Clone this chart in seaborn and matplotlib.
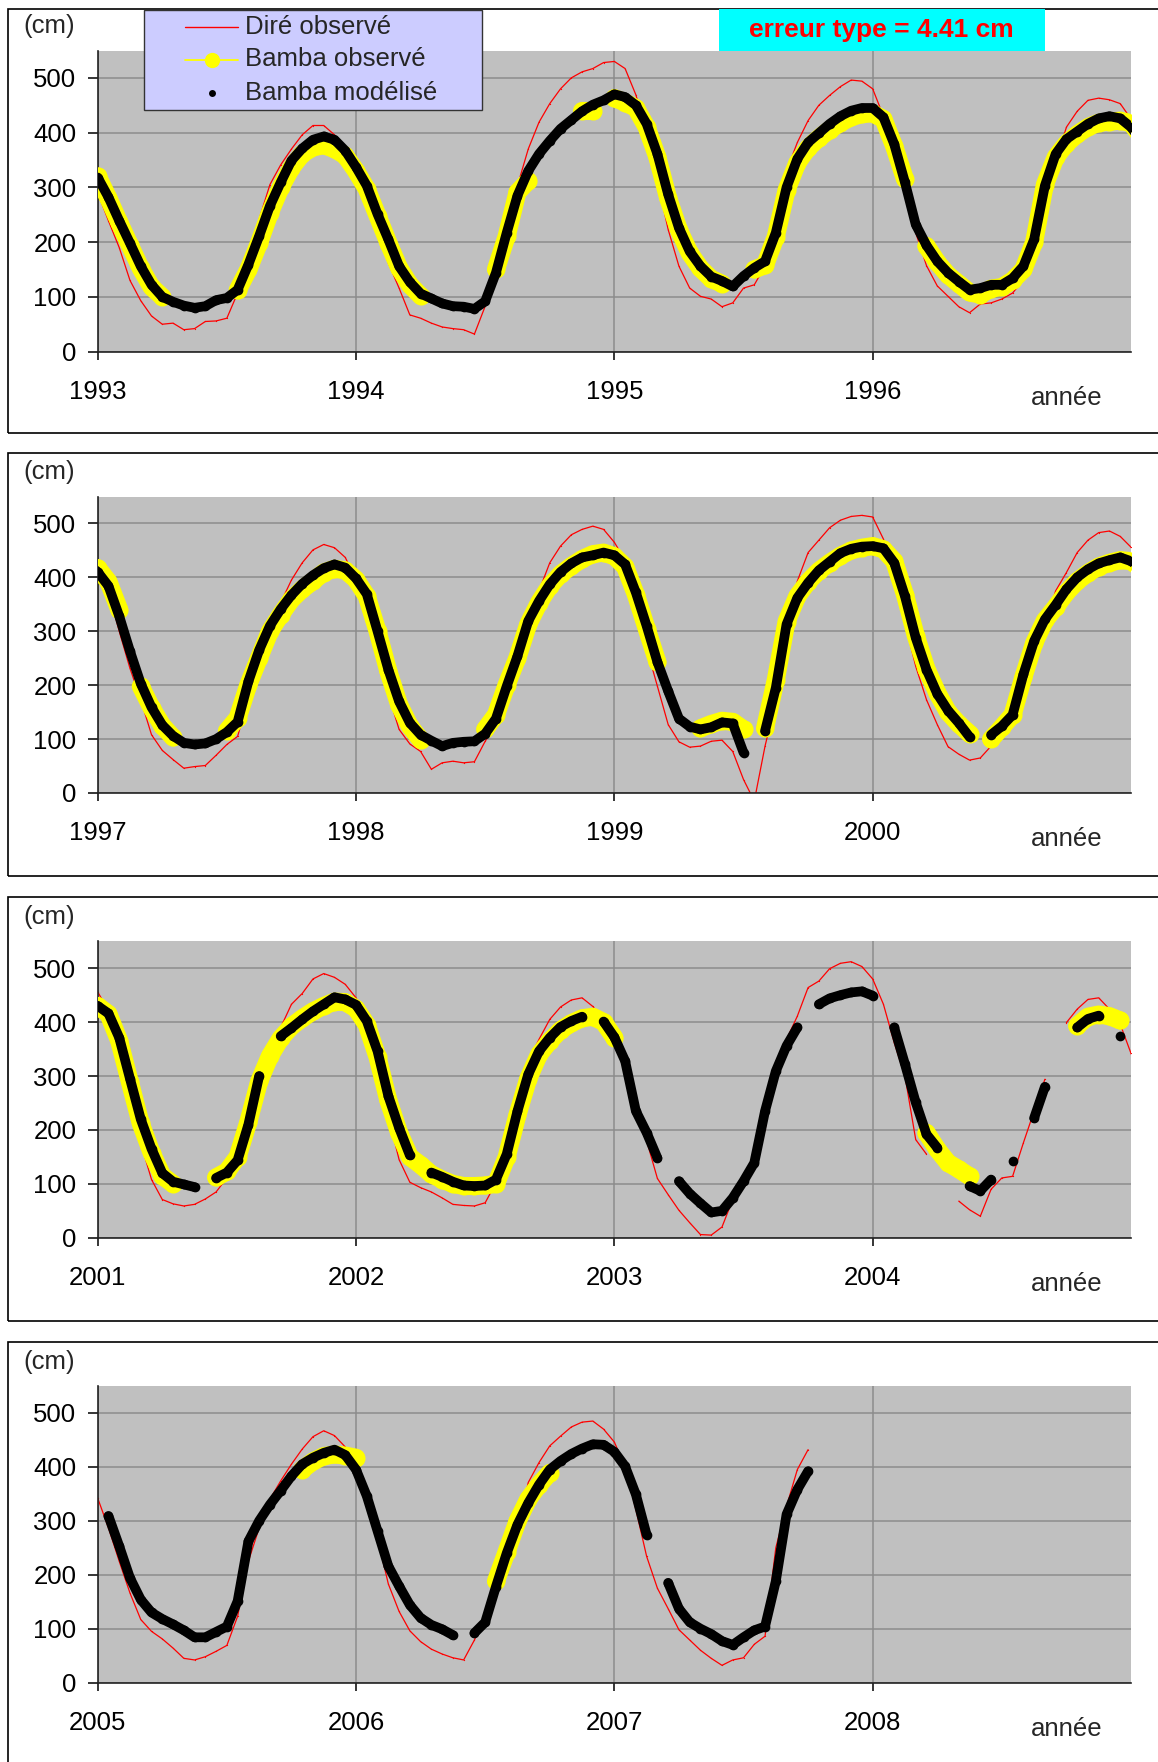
import numpy as np
import pandas as pd
import matplotlib.pyplot as plt
from matplotlib.patches import Rectangle
from matplotlib.lines import Line2D
import seaborn as sns

nan = np.nan

# cotes en cm, un relevé tous les demi-mois (24 par an) à partir du 1er janvier 1993
dire_observe = (
    [290, 239, 190, 130, 93, 65, 50, 52, 40, 42, 55, 56, 61, 107, 171, 242, 305, 341, 370, 396, 413, 413, 396, 371]      # 1993
    + [327, 275, 220, 162, 116, 67, 61, 52, 45, 42, 40, 32, 83, 150, 229, 303, 370, 419, 453, 480, 500, 511, 517, 528]  # 1994
    + [530, 517, 469, 401, 312, 223, 156, 116, 101, 96, 82, 89, 116, 122, 156, 226, 330, 382, 422, 450, 468, 484, 496, 494]
    + [480, 430, 379, 303, 217, 157, 120, 101, 82, 71, 87, 89, 96, 107, 131, 180, 284, 346, 410, 439, 459, 463, 460, 453]
    + [425, 375, 300, 231, 173, 108, 79, 62, 46, 49, 51, 70, 90, 105, 176, 246, 300, 353, 395, 427, 451, 461, 455, 437]
    + [396, 336, 269, 183, 118, 91, 77, 44, 56, 59, 56, 58, 96, 127, 183, 248, 310, 375, 427, 458, 479, 489, 495, 489]
    + [465, 432, 362, 269, 198, 127, 95, 85, 87, 96, 98, 77, 25, -15, 87, 170, 300, 393, 446, 469, 492, 506, 513, 515]
    + [512, 471, 396, 316, 235, 173, 127, 86, 72, 61, 65, 87, 127, 167, 207, 257, 313, 375, 409, 446, 469, 483, 486, 476]
    + [456, 421, 359, 272, 176, 108, 71, 63, 59, 62, 72, 85, 111, 144, 223, 303, 339, 390, 433, 453, 480, 490, 483, 470]
    + [445, 393, 325, 226, 145, 103, 93, 85, 74, 62, 60, 59, 65, 102, 189, 260, 328, 368, 405, 428, 441, 445, 429, 405]
    + [374, 306, 226, 180, 110, 80, 51, 28, 6, 5, 20, 71, 96, 130, 201, 319, 368, 411, 464, 476, 499, 509, 512, 503]
    + [480, 433, 362, 300, 182, 155, nan, nan, 68, 52, 40, 90, 111, 114, 176, 235, 294, nan, 399, 424, 442, 445, 424, 396]
    + [342, 287, 225, 166, 117, 95, 81, 64, 45, 42, 48, 58, 69, 123, 225, 287, 340, 374, 405, 433, 456, 467, 458, 437]
    + [401, 349, 268, 183, 132, 96, 76, 62, 53, 46, 42, 79, 125, 175, 225, 281, 371, 408, 439, 457, 474, 483, 485, 470]
    + [446, 401, 321, 234, 175, 137, 98, 79, 60, 45, 32, 42, 46, 71, 86, 250, 327, 395, 432, nan, nan, nan, nan, nan]
    + [nan] * 25
)

bamba_observe = (
    [320, 280, 236, 194, 152, 118, 100, nan, nan, nan, nan, nan, nan, 112, 150, 199, 254, 300, 336, 361, 373, 377, 370, 358]
    + [330, 297, 248, 199, 153, 122, 102, nan, nan, nan, nan, nan, nan, 150, 211, 291, 312, nan, nan, nan, nan, 440, 440, nan]
    + [463, 455, 445, 410, 355, 280, 222, 180, 152, 133, 124, nan, nan, 150, 158, 210, 295, 345, 372, 390, 405, 418, 428, 434]
    + [435, 425, 375, 315, nan, 193, 163, 140, 124, 108, 104, 115, 118, 130, 150, 200, 305, 355, 380, 397, 410, 418, 420, 422]
    + [417, 392, 340, nan, 198, 158, 125, 103, nan, nan, nan, nan, 115, 139, 201, 251, 300, 331, 359, 378, 393, 409, 416, 413]
    + [396, 365, 300, 226, 164, 124, 99, nan, nan, nan, nan, nan, 118, 145, 201, 251, 313, 353, 384, 406, 421, 434, 443, 446]
    + [439, 420, 368, 305, 243, nan, nan, nan, 120, 128, 134, 132, 118, nan, 120, 210, 318, 365, 392, 412, 427, 440, 450, 455]
    + [458, 452, 430, 368, 292, 230, 186, 150, 128, 110, nan, 100, 122, 145, 215, 278, 320, 345, 372, 393, 408, 420, 427, 432]
    + [430, 415, 365, 288, 212, 158, 115, 100, nan, nan, nan, 112, 123, 150, 215, 290, 337, 370, 392, 407, 420, 430, 438, 437]
    + [425, 395, 335, 255, 195, 150, 135, 118, 108, 100, 96, 96, 97, 100, 150, 228, 295, 340, 365, 385, 398, 407, 410, 400]
    + [371] + [nan] * 23
    + [nan, nan, nan, nan, nan, 195, 164, 139, 127, 114] + [nan] * 9 + [393, 410, 414, 411, 403]
    + [nan] * 19 + [395, 410, 420, 423, 421]
    + [417] + [nan] * 12 + [188, 243, 299, 340, 367, 389] + [nan] * 5
    + [nan] * 24
    + [nan] * 25
)

bamba_modelise = (
    [318, 282, 239, 198, 156, 122, 100, 91, 84, 80, 83, 94, 98, 113, 159, 211, 266, 309, 349, 371, 387, 393, 387, 367]
    + [337, 303, 251, 205, 156, 127, 106, 97, 88, 83, 82, 78, 92, 144, 217, 285, 330, 361, 385, 407, 423, 439, 451, 459]
    + [470, 465, 450, 416, 361, 287, 226, 183, 156, 137, 129, 119, 138, 153, 165, 217, 300, 352, 382, 399, 416, 430, 440, 445]
    + [445, 428, 379, 309, 232, 194, 165, 144, 128, 113, 116, 122, 122, 134, 156, 205, 303, 361, 388, 402, 416, 426, 430, 426]
    + [410, 384, 328, 263, 203, 159, 126, 106, 93, 90, 92, 100, 113, 132, 207, 265, 310, 341, 367, 388, 404, 417, 424, 418]
    + [398, 369, 300, 229, 170, 130, 108, 97, 87, 93, 95, 96, 110, 138, 198, 254, 319, 356, 387, 410, 426, 437, 441, 446]
    + [441, 424, 372, 310, 243, 189, 138, 123, 118, 122, 131, 129, 75, nan, 115, 195, 313, 362, 390, 413, 429, 445, 453, 457]
    + [458, 454, 427, 365, 288, 229, 184, 153, 130, 104, nan, 108, 124, 145, 220, 282, 322, 349, 378, 400, 415, 426, 432, 437]
    + [430, 416, 371, 295, 220, 165, 120, 104, 99, 94, nan, 111, 121, 144, 210, 300, nan, 374, 389, 405, 420, 433, 446, 442]
    + [432, 402, 346, 263, 204, 153, nan, 121, 113, 104, 97, 96, 97, 108, 155, 235, 303, 346, 371, 391, 402, 410, nan, 401]
    + [372, 328, 235, 195, 148, nan, 105, 82, 64, 47, 50, 74, 105, 139, 235, 309, 356, 390, nan, 433, 444, 450, 455, 457]
    + [449, nan, 390, 322, 251, 192, 167, nan, nan, 96, 87, 108, nan, 142, nan, 222, 280, nan, nan, 390, 406, 412, nan, 375]
    + [nan, 309, 253, 194, 154, 130, 118, 108, 97, 84, 84, 94, 104, 151, 262, 300, 330, 356, 383, 405, 417, 426, 432, 422]
    + [395, 346, 281, 216, 179, 144, 120, 107, 99, 88, nan, 92, 112, 178, 240, 293, 333, 367, 395, 411, 424, 434, 442, 441]
    + [428, 401, 349, 274, nan, 185, 137, 112, 100, 90, 77, 70, 84, 97, 104, 188, 312, 358, 392, nan, nan, nan, nan, nan]
    + [nan] * 25
)

debuts = [1993, 1997, 2001, 2005]

sns.set_theme(style='white')
plt.rcParams['font.family'] = ['Liberation Sans', 'DejaVu Sans']

W, H = 1158, 1762
fig = plt.figure(figsize=(W / 100, H / 100), dpi=100)
fig.patch.set_facecolor('white')


def fx(px):
    return px / W


def fy(py):
    return 1 - py / H


def en_tableau(valeurs):
    v = pd.Series(valeurs, dtype=float)
    df = pd.DataFrame({'annee': 1993 + np.arange(len(v)) / 24,
                       'cote': v,
                       'troncon': v.isna().cumsum()})
    return df.dropna()


def tracer(ax, valeurs, couleur, epaisseur, z):
    sns.lineplot(data=en_tableau(valeurs), x='annee', y='cote', units='troncon',
                 estimator=None, sort=False, ax=ax, legend=False,
                 color=couleur, linewidth=epaisseur, marker='o', markersize=epaisseur,
                 markeredgewidth=0, markeredgecolor=couleur,
                 solid_capstyle='round', solid_joinstyle='round', zorder=z)


# (haut, bas) des zones de tracé et des cadres, en pixels
zones = [(50.5, 351.6), (496.5, 793.0), (941.2, 1237.8), (1386.0, 1682.6)]
cadres = [(9, 433), (452.6, 876), (897.4, 1321), (1342, 1800)]
gauche, droite = 97.7, 1131.0
taille = 18.5

for debut, (haut, bas), (c_haut, c_bas) in zip(debuts, zones, cadres):
    fig.add_artist(Rectangle((fx(8), fy(c_bas)), 1.2, (c_bas - c_haut) / H,
                             transform=fig.transFigure, fill=False,
                             edgecolor='black', linewidth=1.2, zorder=1))

    ax = fig.add_axes([fx(gauche), fy(bas), fx(droite) - fx(gauche), (bas - haut) / H])
    ax.set_facecolor('#C0C0C0')

    tracer(ax, dire_observe, '#FF0000', 0.9, 2)
    tracer(ax, bamba_observe, '#FFFF00', 13, 3)
    tracer(ax, bamba_modelise, '#000000', 7, 4)

    ax.set_xlim(debut, debut + 4)
    ax.set_ylim(0, 550)
    ax.set_xticks([debut + i for i in range(4)])
    ax.set_xticklabels([str(debut + i) for i in range(4)])
    ax.set_yticks(range(0, 501, 100))
    ax.set(xlabel='', ylabel='')
    ax.grid(True, color='#8C8C8C', linewidth=1.1)
    ax.set_axisbelow(True)
    for s in ['top', 'right']:
        ax.spines[s].set_visible(False)
    for s in ['left', 'bottom']:
        ax.spines[s].set_color('#222222')
        ax.spines[s].set_linewidth(1.2)
    ax.tick_params(axis='both', labelsize=taille, colors='black', width=1.1, direction='out',
                   bottom=True, left=True)
    ax.tick_params(axis='x', length=6, pad=14.5)
    ax.tick_params(axis='y', length=7, pad=8.3)

    fig.text(fx(23), fy(haut - 24), '(cm)', fontsize=taille, ha='left', va='center')
    fig.text(fx(1031), fy(bas + 46.5), 'année', fontsize=taille, ha='left', va='center')

# légende
fig.add_artist(Rectangle((fx(143.8), fy(110)), fx(481.9) - fx(143.8), 100 / H,
                         transform=fig.transFigure, facecolor='#CCCCFF',
                         edgecolor='#333333', linewidth=1.0, zorder=10))
lignes = [27, 59.5, 93.2]
fig.add_artist(Line2D([fx(185), fx(238)], [fy(lignes[0])] * 2, transform=fig.transFigure,
                      color='#FF0000', linewidth=1.0, zorder=11))
fig.add_artist(Line2D([fx(185), fx(238)], [fy(lignes[1])] * 2, transform=fig.transFigure,
                      color='#FFFF00', linewidth=1.3, zorder=11))
fig.add_artist(Line2D([fx(211.5)], [fy(lignes[1])], transform=fig.transFigure,
                      color='#FFFF00', marker='o', markersize=11, markeredgewidth=0, zorder=12))
fig.add_artist(Line2D([fx(211.5)], [fy(lignes[2])], transform=fig.transFigure,
                      color='black', marker='o', markersize=5, markeredgewidth=0, zorder=12))
for y, nom in zip(lignes, ['Diré observé', 'Bamba observé', 'Bamba modélisé']):
    fig.text(fx(245), fy(y), nom, fontsize=taille, ha='left', va='center', zorder=12)

# erreur type
fig.add_artist(Rectangle((fx(719), fy(50.5)), fx(1044.6) - fx(719), 41.5 / H,
                         transform=fig.transFigure, facecolor='#00FFFF',
                         edgecolor='none', zorder=10))
fig.text(fx(881), fy(29.5), 'erreur type = 4.41 cm', fontsize=19, fontweight='bold',
         color='#FF0000', ha='center', va='center', zorder=12)

fig.savefig('out.png', dpi=100, facecolor='white')
